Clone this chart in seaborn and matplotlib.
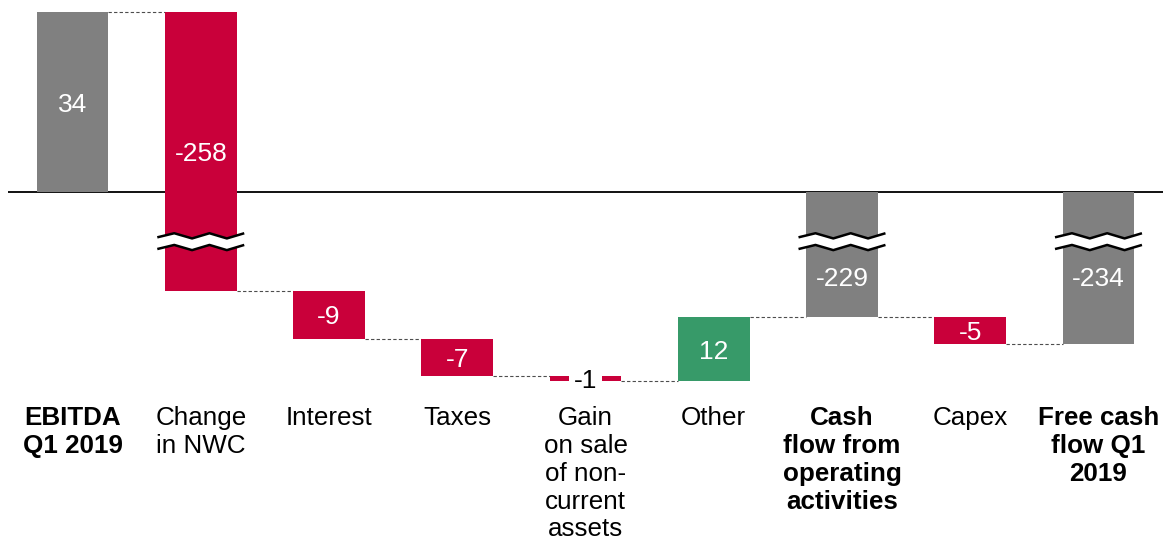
import numpy as np
import pandas as pd
import matplotlib
matplotlib.use("Agg")
import matplotlib.pyplot as plt
from matplotlib.patches import Polygon
from matplotlib.lines import Line2D
import seaborn as sns

# ---- data -------------------------------------------------------------
categories = [
    "EBITDA\nQ1 2019",
    "Change\nin NWC",
    "Interest",
    "Taxes",
    "Gain\non sale\nof non-\ncurrent\nassets",
    "Other",
    "Cash\nflow from\noperating\nactivities",
    "Capex",
    "Free cash\nflow Q1\n2019",
]
values = [34, -258, -9, -7, -1, 12, -229, -5, -234]
is_total = [True, False, False, False, False, False, True, False, True]

# ---- style ------------------------------------------------------------
GRAY = "#808080"
RED = "#C9003A"
GREEN = "#379A69"
BAR_W = 0.56

sns.set_theme(style="white")
plt.rcParams["font.family"] = ["Liberation Sans", "DejaVu Sans"]

# running levels of the waterfall
bottoms, levels = [], []
level = 0
for v, t in zip(values, is_total):
    if t:
        bottoms.append(0)
        level = v
    else:
        bottoms.append(level)
        level += v
    levels.append(level)

# broken value axis: the span between GAP_BOTTOM and GAP_TOP is collapsed
GAP_TOP = -9.3
GAP_SIZE = 205.4
GAP_BOTTOM = GAP_TOP - GAP_SIZE


def fwd(v):
    v = np.asarray(v, dtype=float)
    return np.where(v >= GAP_TOP, v,
                    np.where(v <= GAP_BOTTOM, v + GAP_SIZE, GAP_TOP))


def inv(d):
    d = np.asarray(d, dtype=float)
    return np.where(d >= GAP_TOP, d, d - GAP_SIZE)


W, H = 1165, 540
fig = plt.figure(figsize=(W / 100, H / 100), dpi=100)
ax = fig.add_axes([8.4 / W, 148 / H, 1154.2 / W, 392 / H])

df = pd.DataFrame({"item": categories, "value": values})
sns.barplot(data=df, x="item", y="value", order=categories, width=BAR_W,
            errorbar=None, bottom=bottoms, color=GRAY, saturation=1,
            linewidth=0, ax=ax, zorder=2)

for patch, v, t in zip(ax.patches, values, is_total):
    patch.set_facecolor(GRAY if t else (GREEN if v > 0 else RED))
    patch.set_edgecolor("none")

ax.set_yscale("function", functions=(fwd, inv))
sc = ax.transLimits + ax.transAxes   # x in data, y in scaled units

# zero line
ax.axhline(0, color="#111111", lw=1.4, zorder=1)

# dashed connectors between consecutive bars
xs_c = np.arange(len(values))
for i in range(len(values) - 1):
    ax.plot([xs_c[i] + BAR_W / 2, xs_c[i + 1] - BAR_W / 2],
            [levels[i], levels[i]], ls=(0, (3, 2)), color="#4d4d4d",
            lw=0.8, zorder=1)

# break symbols on bars that cross the collapsed span
PX = 5.3                      # pixels per scaled unit
brk_c = -9.32
frac = np.array([0.0, 0.195, 0.40, 0.60, 0.80, 1.0])
wave = np.array([-1.5, 2.6, -2.6, 2.6, -2.6, 2.6]) / PX
sep = 5.85 / PX
for i, (b, v) in enumerate(zip(bottoms, values)):
    lo, hi = sorted([b, b + v])
    if lo < GAP_BOTTOM and hi > GAP_TOP:
        xz = i - 0.339 + frac * 0.678
        up = brk_c + sep + wave
        dn = brk_c - sep + wave
        poly = np.column_stack([np.r_[xz, xz[::-1]], np.r_[up, dn[::-1]]])
        ax.add_patch(Polygon(poly, closed=True, facecolor="white",
                             edgecolor="none", transform=sc, zorder=3))
        for yy in (up, dn):
            ax.add_line(Line2D(xz, yy, color="black", lw=1.8,
                               solid_joinstyle="round",
                               solid_capstyle="butt", transform=sc,
                               zorder=4))

# value labels
for i, (b, v, t) in enumerate(zip(bottoms, values, is_total)):
    y0, y1 = fwd([b, b + v])
    ymid = (y0 + y1) / 2
    lo, hi = sorted([b, b + v])
    if t and lo < GAP_BOTTOM and hi > GAP_TOP and b == 0:
        ymid = -15.9
    if abs(v) < 2:
        ax.text(i, ymid, f"{v}", transform=sc, ha="center",
                va="center_baseline", color="black", fontsize=19,
                zorder=5,
                bbox=dict(boxstyle="square,pad=0.18", fc="white", ec="none"))
    else:
        ax.text(i, ymid, f"{v}", transform=sc, ha="center",
                va="center_baseline", color="white", fontsize=19,
                zorder=5)

# category labels
ax.set_xticks(range(len(categories)))
ax.set_xticklabels(categories, fontsize=18.7)
ax.tick_params(axis="x", length=0, pad=10.0, colors="black")
for lbl, t in zip(ax.get_xticklabels(), is_total):
    lbl.set_fontweight("bold" if t else "normal")
    lbl.set_linespacing(1.205)
    lbl.set_color("black")

ax.set_yticks([])
ax.set_yticks([], minor=True)
ax.set_xlabel("")
ax.set_ylabel("")
for s in ax.spines.values():
    s.set_visible(False)

ax.set_xlim(-0.5, 8.5)
ax.set_ylim(float(inv(-37.68)), 36.28)

fig.savefig("out.png", dpi=100, facecolor="white")
